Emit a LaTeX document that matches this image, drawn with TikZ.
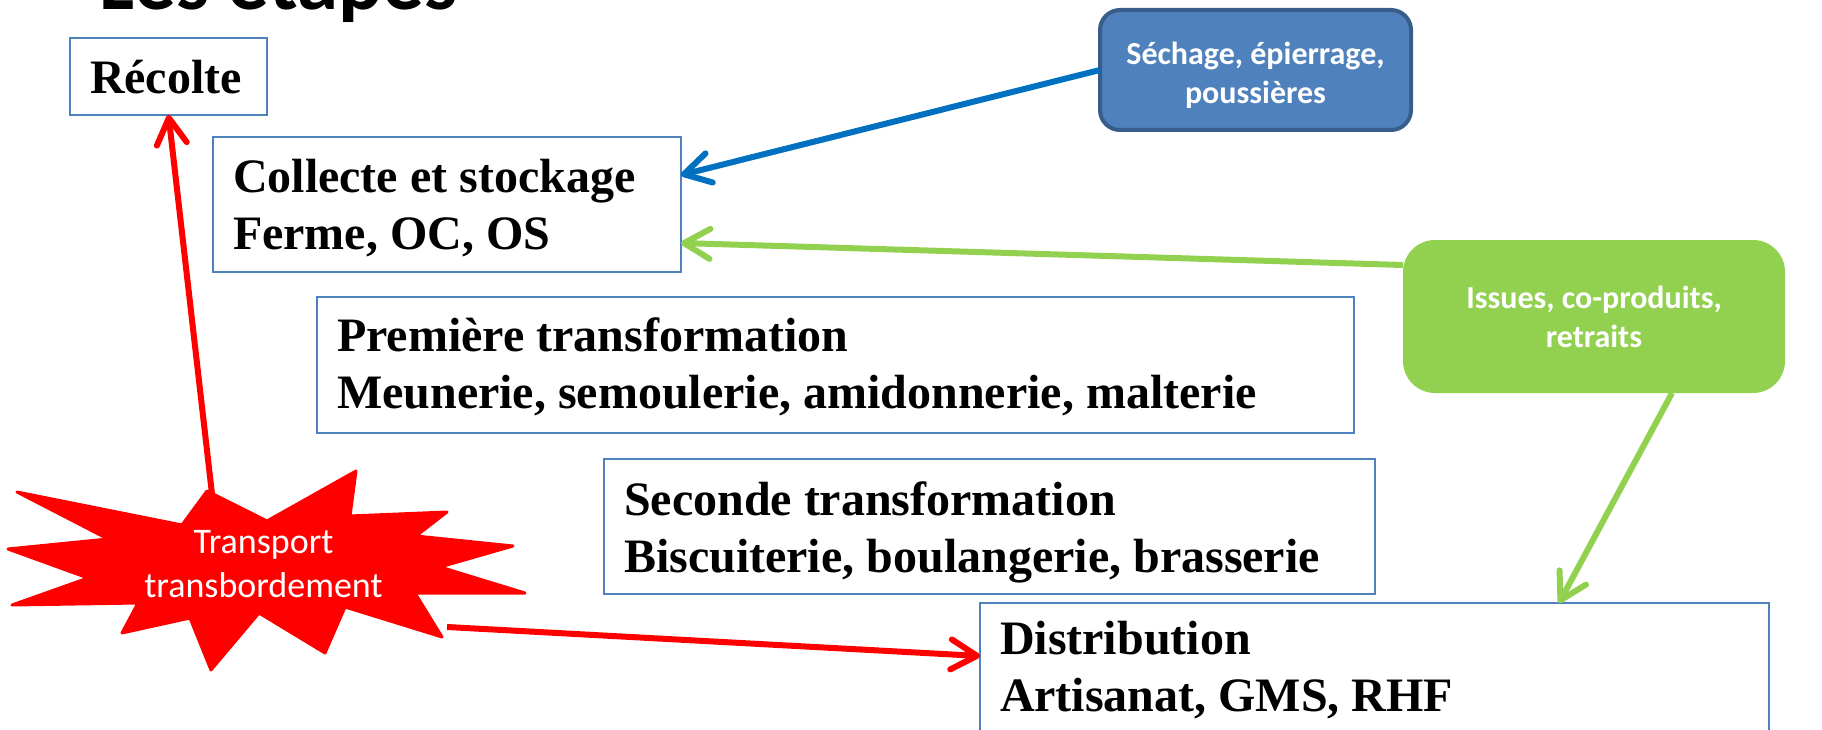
\documentclass[tikz,border=0pt]{standalone}
\usepackage{fontspec}
\setmainfont{Liberation Serif}
\newfontfamily\calfont{Carlito}
\usetikzlibrary{arrows.meta}
\definecolor{boxblue}{HTML}{4F81BD}
\definecolor{boxdark}{HTML}{385D8A}
\definecolor{arrblue}{HTML}{0070C0}
\definecolor{grn}{HTML}{92D050}
\definecolor{rd}{HTML}{FF0000}
\newcommand{\topstrut}[1]{\rule{0pt}{#1pt}}
\newcommand{\botstrut}[1]{\rule[-#1pt]{0pt}{#1pt}}
\begin{document}
\begin{tikzpicture}[x=1pt,y=-1pt,
  stagebox/.style={draw=boxblue, line width=2pt, fill=white, align=flush left,
    inner xsep=20pt, inner ysep=0pt, outer sep=0pt,
    font=\bfseries\fontsize{48}{57}\selectfont},
  note/.style={rounded corners=#1, align=center, inner sep=0pt, outer sep=0pt,
    text=white, font=\calfont\bfseries\fontsize{32}{39}\selectfont},
  arr/.style={line width=6pt, -{Straight Barb[length=26pt,width=30pt,round]}}
]
\useasboundingbox (0,0) rectangle (1822,730);
\clip (0,0) rectangle (1822,730);

% title
\node[anchor=base west, inner sep=0pt, font=\calfont\bfseries\fontsize{83}{90}\selectfont] (title) at (99,10) {Les étapes};

% stage boxes
\node[stagebox, text width=157pt, minimum height=77pt] (recolte) at (168.5,76.5)
  {\topstrut{47}Récolte\botstrut{12}};
\node[stagebox, text width=428pt, minimum height=135pt] (collecte) at (447,204.5)
  {\topstrut{46}Collecte et stockage\\Ferme, OC, OS\botstrut{12}};
\node[stagebox, text width=997pt, minimum height=136pt] (premiere) at (835.5,365)
  {\topstrut{42}Première transformation\\Meunerie, semoulerie, amidonnerie, malterie\botstrut{12}};
\node[stagebox, text width=731pt, minimum height=135pt] (seconde) at (989.5,526.5)
  {\topstrut{46}Seconde transformation\\Biscuiterie, boulangerie, brasserie\botstrut{12}};
\node[stagebox, text width=749pt, minimum height=135pt] (dist) at (1374.5,670.5)
  {\topstrut{36}Distribution\\Artisanat, GMS, RHF\botstrut{12}};

% note boxes
\node[note=20pt, draw=boxdark, line width=4pt, fill=boxblue,
  minimum width=311pt, minimum height=120pt] (sechage) at (1255.5,70)
  {\topstrut{38}Séchage, épierrage,\\poussières\botstrut{10}};
\node[note=32pt, fill=grn, minimum width=382pt, minimum height=153pt] (issues) at (1594,316.5)
  {\topstrut{33}Issues, co-produits,\\retraits\botstrut{10}};

% star
\draw[rd, fill=rd, line width=3pt, line join=round]
  (207,491) -- (267,521) -- (356,471) -- (350,516) -- (447,512) -- (416,536)
  -- (513,546) -- (440,567) -- (525,593) -- (415,593) -- (442,637) -- (345,607)
  -- (325,653) -- (259,613) -- (211,670) -- (190,618) -- (122,633) -- (138,603)
  -- (12,605) -- (88,578) -- (8,549) -- (108,539) -- (17,492) -- (182,525) -- cycle;
\node[align=center, inner sep=0pt, text=white, font=\calfont\fontsize{36}{44}\selectfont]
  (transport) at (263.5,565) {\topstrut{30}Transport\\transbordement\botstrut{10}};
\coordinate (startop) at (212,494);
\coordinate (starright) at (447,627);

% connectors
\draw[arr, rd] (startop) -- (recolte.south);
\draw[arr, rd] (starright) -- ([yshift=14.5pt]dist.west);
\draw[arr, arrblue] (sechage.west) -- ([yshift=29.5pt]collecte.east);
\draw[arr, grn] ([yshift=51.5pt]issues.west) -- ([yshift=-38.5pt]collecte.east);
\draw[arr, grn] ([xshift=78pt]issues.south) -- ([xshift=184.5pt]dist.north);
\end{tikzpicture}
\end{document}
